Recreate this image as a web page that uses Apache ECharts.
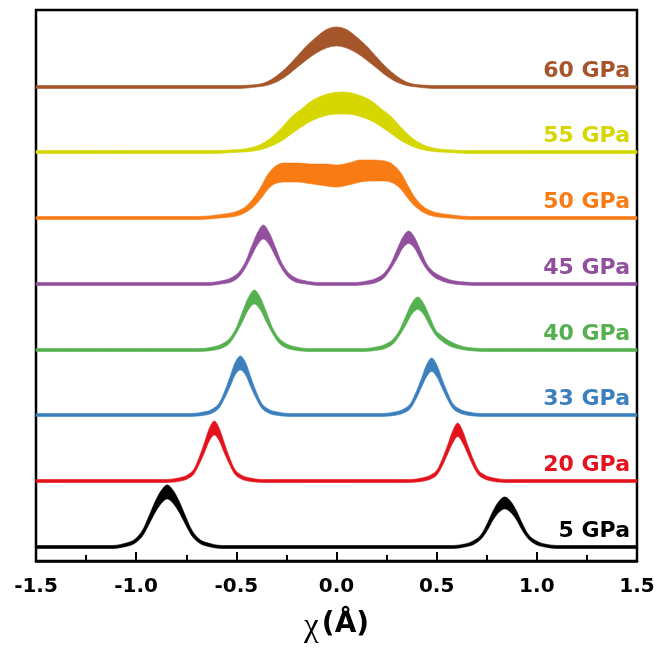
<!DOCTYPE html>
<html>
<head>
<meta charset="utf-8">
<script src="https://cdn.jsdelivr.net/npm/echarts@6/dist/echarts.min.js"></script>
<style>
html,body{margin:0;padding:0;background:#fff;}
#chart{width:662px;height:655px;}
</style>
</head>
<body>
<div id="chart"></div>
<script>
// ---- data ----
const pressures = ['5 GPa','20 GPa','33 GPa','40 GPa','45 GPa','50 GPa','55 GPa','60 GPa'];
// vertical offsets (stacking shift) of each curve's baseline, intensity units
const offsets = [14, 80, 146, 211, 277, 343, 409, 474];
const xTicks = [-1.5, -1.0, -0.5, 0.0, 0.5, 1.0, 1.5];
// each row: [chi (Å), lower edge of noisy band, upper edge of noisy band] (intensity above baseline)
const p5 = [
 [-1.5,-1.5,1.5],[-1.125,-1.5,1.5],[-1.055,0.3,3.7],[-1.005,4,8],[-0.965,12,18],[-0.935,23,31.5],[-0.905,34.5,45.5],[-0.875,43.5,56.5],[-0.845,48,62],[-0.815,43.5,56.5],[-0.785,34.5,45.5],[-0.755,23,31.5],[-0.725,12,18],[-0.685,4,8],[-0.635,0.3,3.7],[-0.565,-1.5,1.5],
 [0.57,-1.5,1.5],[0.64,0,3],[0.685,2.6,6.4],[0.725,8.7,13.3],[0.755,17.4,24.6],[0.78,26.5,35.5],[0.81,34.5,45.5],[0.84,38,50],[0.87,34.5,45.5],[0.9,26.5,35.5],[0.925,17.4,24.6],[0.955,8.7,13.3],[0.995,2.6,6.4],[1.04,0,3],[1.11,-1.5,1.5],[1.5,-1.5,1.5]
];
const p20 = [
 [-1.5,-1.5,1.5],[-0.86,-1.5,1.5],[-0.79,-0.4,3],[-0.745,2,6],[-0.71,7.5,12.5],[-0.685,17,24],[-0.66,28,38],[-0.635,40,52.5],[-0.61,46,60],[-0.585,40,52.5],[-0.56,28,38],[-0.535,17,24],[-0.51,7.5,12.5],[-0.475,2,6],[-0.43,-0.4,3],[-0.36,-1.5,1.5],
 [0.355,-1.5,1.5],[0.425,-0.4,3],[0.47,2,6],[0.505,7,12],[0.53,16,23],[0.555,27,36],[0.58,38,50],[0.605,44.5,58],[0.63,38,50],[0.655,27,36],[0.68,16,23],[0.705,7,12],[0.74,2,6],[0.785,-0.4,3],[0.855,-1.5,1.5],[1.5,-1.5,1.5]
];
const p33 = [
 [-1.5,-1.5,1.5],[-0.74,-1.5,1.5],[-0.665,-0.4,3],[-0.62,2,6],[-0.584,7.5,12.5],[-0.558,17,24],[-0.532,28,38],[-0.506,40,52.5],[-0.48,45,59],[-0.454,40,52.5],[-0.428,28,38],[-0.402,17,24],[-0.376,7.5,12.5],[-0.34,2,6],[-0.295,-0.4,3],[-0.22,-1.5,1.5],
 [0.215,-1.5,1.5],[0.29,-0.4,3],[0.335,2,6],[0.371,7,12],[0.397,16,23],[0.423,27,36],[0.449,38,50],[0.475,43.5,57],[0.501,38,50],[0.527,27,36],[0.553,16,23],[0.579,7,12],[0.615,2,6],[0.66,-0.4,3],[0.735,-1.5,1.5],[1.5,-1.5,1.5]
];
const p40 = [
 [-1.5,-1.5,1.5],[-0.69,-1.5,1.5],[-0.62,-0.4,3],[-0.57,2.1,6.3],[-0.53,7.5,12.5],[-0.5,16.7,22.5],[-0.47,28,38],[-0.44,40,52.5],[-0.41,46,60],[-0.38,40,52.5],[-0.35,28,38],[-0.32,16.7,22.5],[-0.29,7.5,12.5],[-0.25,2.1,6.3],[-0.2,-0.4,3],[-0.13,-1.5,1.5],
 [0.125,-1.5,1.5],[0.195,-0.5,2.9],[0.245,1.7,5.9],[0.285,6.6,11.4],[0.315,14.7,20.1],[0.345,24.5,33.5],[0.375,35.5,46.5],[0.405,40.5,53],[0.435,35.5,46.5],[0.465,24.5,33.5],[0.495,14.7,20.1],[0.525,9,14.5],[0.565,4,9],[0.615,1,4.5],[0.685,-1,2],[0.75,-1.5,1.5],[1.5,-1.5,1.5]
];
const p45 = [
 [-1.5,-1.5,1.5],[-0.645,-1.5,1.5],[-0.575,0,3.2],[-0.525,2,6.3],[-0.485,7.5,12.5],[-0.455,16,22],[-0.425,27.5,37],[-0.395,39,51],[-0.365,45,59],[-0.335,39,51],[-0.305,27.5,37],[-0.275,16,22],[-0.245,7.5,12.5],[-0.205,2,6.3],[-0.155,0,3.2],[-0.085,-1.5,1.5],
 [0.08,-1.5,1.5],[0.15,-0.5,2.9],[0.2,1.7,5.9],[0.24,6.6,11.4],[0.27,14.7,20.1],[0.3,24.5,33.5],[0.33,35.5,46.5],[0.36,40.5,53],[0.39,35.5,46.5],[0.42,24.5,33.5],[0.45,14.7,20.1],[0.48,8,13],[0.52,3.5,8],[0.57,0.5,4],[0.64,-1,2],[0.7,-1.5,1.5],[1.5,-1.5,1.5]
];
const p50 = [
 [-1.5,-1.5,1.5],[-0.7,-1.5,1.5],[-0.58,0,3.5],[-0.5,2,6.5],[-0.45,6,12],[-0.41,12,21],[-0.375,20,32],[-0.345,28,43],[-0.31,34,51],[-0.26,36,55],[-0.2,36,55],[-0.12,34,54],[-0.05,32,54],[0.0,31,53],[0.06,33,55],[0.12,36,58],[0.18,37,58],[0.24,37,57],[0.29,34,52],[0.325,28,44],[0.355,20,33],[0.39,12,21],[0.43,6,12],[0.48,2,6.5],[0.56,0,3.5],[0.68,-1.5,1.5],[1.5,-1.5,1.5]
];
const p55 = [
 [-1.5,-1.5,1.5],[-0.615,-1.5,1.5],[-0.515,-0.5,2.2],[-0.435,0.5,4],[-0.375,2.5,8],[-0.325,6,14.5],[-0.275,11,24],[-0.225,18,35],[-0.175,25,43],[-0.125,31,51],[-0.075,35,56],[-0.025,37.5,59],[0.025,38,60],[0.075,37.5,59],[0.125,35,56],[0.175,31,51],[0.225,25,43],[0.275,18,35],[0.325,11,24],[0.375,6,14.5],[0.425,2.5,8],[0.485,0.5,4],[0.565,-0.5,2.2],[0.665,-1.5,1.5],[1.5,-1.5,1.5]
];
const p60 = [
 [-1.5,-1.5,1.5],[-0.5,-1.5,1.5],[-0.4,0,2.5],[-0.35,1.5,5],[-0.3,5,11],[-0.25,11,19.5],[-0.2,19,30],[-0.15,27,41],[-0.1,34,50],[-0.05,39,57.5],[0.0,41,60],[0.05,39,57.5],[0.1,34,50],[0.15,27,41],[0.2,19,30],[0.25,11,19.5],[0.3,5,11],[0.35,1.5,5],[0.4,0,2.5],[0.5,-1.5,1.5],[1.5,-1.5,1.5]
];
const curves = [p5, p20, p33, p40, p45, p50, p55, p60];

// ---- styles ----
const colors = ['#000000','#e4121c','#3b7fbd','#55b04f','#924f9e','#f97b14','#d6d600','#a5552a'];
const sansBold = '"DejaVu Sans", "Liberation Sans", Arial, sans-serif';

// monotone cubic interpolation in pixel space, sampled densely
function monotoneSample(P, steps) {
  const n = P.length;
  if (n < 3) return P.slice();
  const h = [], s = [];
  for (let i = 0; i < n - 1; i++) {
    h[i] = P[i + 1][0] - P[i][0];
    s[i] = (P[i + 1][1] - P[i][1]) / h[i];
  }
  const t = new Array(n);
  for (let i = 1; i < n - 1; i++) {
    const p = (s[i - 1] * h[i] + s[i] * h[i - 1]) / (h[i - 1] + h[i]);
    t[i] = (Math.sign(s[i - 1]) + Math.sign(s[i])) * Math.min(Math.abs(s[i - 1]), Math.abs(s[i]), 0.5 * Math.abs(p)) || 0;
  }
  t[0] = s[0];
  t[n - 1] = s[n - 2];
  const out = [P[0]];
  for (let i = 0; i < n - 1; i++) {
    const x0 = P[i][0], y0 = P[i][1], x1 = P[i + 1][0], y1 = P[i + 1][1];
    const c1 = [x0 + h[i] / 3, y0 + t[i] * h[i] / 3];
    const c2 = [x1 - h[i] / 3, y1 - t[i + 1] * h[i] / 3];
    for (let k = 1; k <= steps; k++) {
      const u = k / steps, v = 1 - u;
      out.push([
        v * v * v * x0 + 3 * v * v * u * c1[0] + 3 * v * u * u * c2[0] + u * u * u * x1,
        v * v * v * y0 + 3 * v * v * u * c1[1] + 3 * v * u * u * c2[1] + u * u * u * y1
      ]);
    }
  }
  return out;
}

const chart = echarts.init(document.getElementById('chart'), null, {renderer: 'canvas'});

function renderItem(params, api) {
  const i = api.value(2);
  const pts = curves[i];
  const base = offsets[i];
  const upper = monotoneSample(pts.map(p => api.coord([p[0], base + p[2]])), 8);
  const lower = monotoneSample(pts.map(p => api.coord([p[0], base + p[1]])), 8).reverse();
  const anchor = api.coord([1.5, base]);
  return {
    type: 'group',
    children: [
      {
        type: 'polygon',
        shape: {points: upper.concat(lower)},
        style: {fill: colors[i], stroke: colors[i], lineWidth: 0.6}
      },
      {
        type: 'text',
        x: anchor[0] - 7,
        y: anchor[1] - 16,
        style: {
          text: pressures[i],
          fill: colors[i],
          font: 'bold 22px ' + sansBold,
          align: 'right', textAlign: 'right',
          verticalAlign: 'middle', textVerticalAlign: 'middle'
        }
      }
    ]
  };
}

const option = {
  backgroundColor: '#fff',
  animation: false,
  grid: {left: 36, right: 25, top: 10, bottom: 94, show: true, borderColor: '#000', borderWidth: 2.5, backgroundColor: 'transparent'},
  xAxis: {
    type: 'value', min: xTicks[0], max: xTicks[xTicks.length - 1], interval: 0.5,
    axisLine: {show: true, onZero: false, lineStyle: {color: '#000', width: 2.5}},
    axisTick: {show: true, inside: true, length: 9, lineStyle: {color: '#000', width: 2}},
    minorTick: {show: true, splitNumber: 2, length: 6, lineStyle: {color: '#000', width: 2}},
    splitLine: {show: false},
    axisLabel: {
      margin: 16, color: '#000', fontSize: 20, fontWeight: 'bold', fontFamily: sansBold, lineHeight: 20,
      formatter: v => v.toFixed(1)
    },
    name: '{chi|χ} {u|(Å)}',
    nameLocation: 'middle',
    nameGap: 48,
    nameTextStyle: {
      rich: {
        chi: {fontFamily: '"Liberation Serif", "DejaVu Serif", serif', fontSize: 33, color: '#000', lineHeight: 32, padding: [4, 0, 0, 0]},
        u: {fontFamily: sansBold, fontWeight: 'bold', fontSize: 28, color: '#000', lineHeight: 32}
      }
    }
  },
  yAxis: {
    type: 'value', min: 0, max: 551,
    show: true,
    axisLine: {show: false}, axisTick: {show: false}, axisLabel: {show: false}, splitLine: {show: false}
  },
  series: [{
    type: 'custom',
    renderItem: renderItem,
    encode: {x: 0, y: 1},
    data: pressures.map((p, i) => [0, offsets[i], i]),
    silent: true
  }]
};
chart.setOption(option);
</script>
</body>
</html>
